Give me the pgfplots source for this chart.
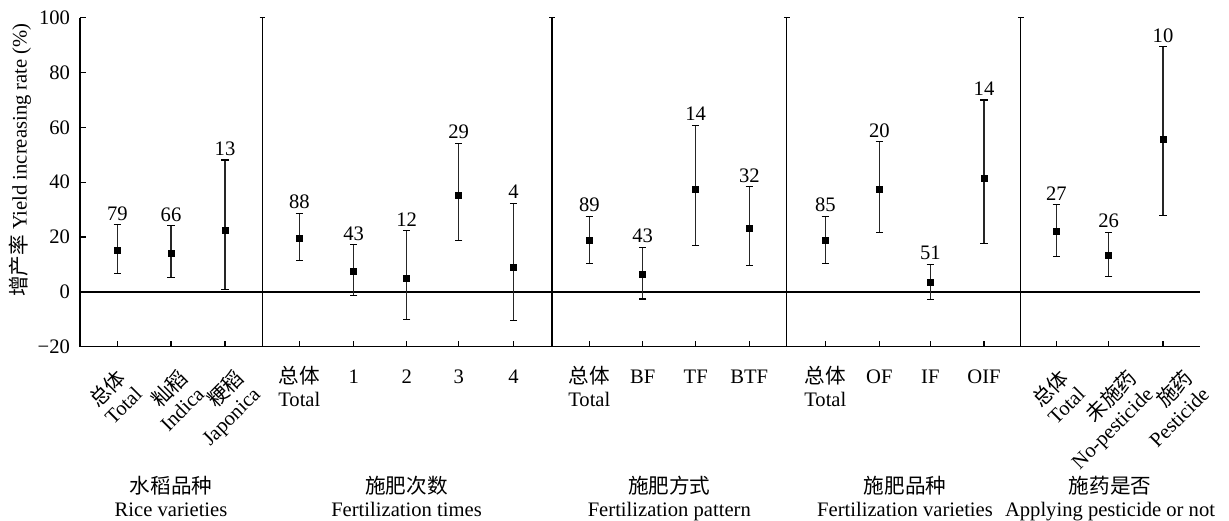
\documentclass[border=0pt]{standalone}
\usepackage{pgfplots}
\pgfplotsset{compat=1.18}
\usepackage{pgfplotstable}
\usepackage{fontspec}
\setmainfont{Liberation Serif}
\newfontfamily\cjk[Scale=1.0]{Noto Sans CJK SC}
\newcommand{\lab}{\fontsize{10.3}{11.3}\selectfont}

\pgfplotstableread{
x y ep em top n
117.3 15.3 9.2 8.5 24.5 79
171.0 14.2 9.9 8.8 24.1 66
225.0 22.4 25.7 21.4 48.1 13
299.3 19.7 9.0 8.3 28.7 88
353.7 7.5 9.7 8.7 17.2 43
406.7 4.9 17.4 14.9 22.3 12
458.7 35.2 18.9 16.5 54.1 29
513.5 8.8 23.6 19.3 32.4 4
589.3 18.7 8.8 8.2 27.5 89
642.7 6.5 9.7 9.1 16.2 43
695.7 37.3 23.5 20.3 60.8 14
749.3 23.1 15.3 13.6 38.4 32
825.3 18.7 8.8 8.2 27.5 85
879.3 37.4 17.4 15.7 54.8 20
930.3 3.4 6.6 6.3 10.0 51
984.0 41.4 28.6 23.7 70.0 14
1056.3 22.0 9.9 9.2 31.9 27
1108.7 13.3 8.5 7.7 21.8 26
1163.0 55.5 33.9 27.6 89.4 10
}\data

\begin{document}
\begin{tikzpicture}
\begin{axis}[
  scale only axis, width=560pt, height=164.5pt,
  xmin=80, xmax=1200, ymin=-20, ymax=100,
  axis x line*=bottom, axis y line*=left,
  axis line style={line width=0.75pt, -},
  tick align=inside, major tick length=3pt,
  tick style={line width=0.6pt, black},
  xtick={117.3,171,225,299.3,353.7,406.7,458.7,513.5,589.3,642.7,695.7,749.3,825.3,879.3,930.3,984,1056.3,1108.7,1163},
  xticklabels={,,},
  ytick={-20,0,20,40,60,80,100},
  yticklabels={−20,0,20,40,60,80,100},
  ticklabel style={font=\lab},
  yticklabel style={xshift=-1.5pt},
  clip=false,
]
% invisible frame for the canvas
\path (axis cs:0,106.47) rectangle (axis cs:1229,-82.47);

% zero line
\addplot[black, line width=0.75pt, forget plot] coordinates {(80,0) (1200,0)};

% separators
\foreach \s in {262.5,552,786.7,1020.7}{
  \edef\tmp{\noexpand\draw[line width=0.75pt] (axis cs:\s,-20) -- (axis cs:\s,100);
  \noexpand\draw[line width=0.75pt] (axis cs:\s-2.8,100) -- (axis cs:\s+2.8,100);}
  \tmp
}

% data with error bars
\addplot[only marks, mark=square*, mark size=1.5pt, black,
  error bars/.cd, y dir=both, y explicit,
  error mark options={rotate=90, mark size=1.8pt, line width=0.55pt, black},
  error bar style={line width=0.55pt, black!85}]
  table[x=x, y=y, y error plus=ep, y error minus=em] {\data};

% sample sizes
\addplot[draw=none, mark=none, nodes near coords, point meta=explicit symbolic,
  nodes near coords style={font=\lab, anchor=south, inner sep=2pt}]
  table[x=x, y=top, meta=n] {\data};

% y label
\node[rotate=90, font=\lab] at (axis cs:20,48.1) {{\cjk 增产率} Yield increasing rate (\%)};

% rotated tick labels
\begin{scope}[every node/.style={font=\lab, rotate=45, align=right, anchor=north east, inner sep=0pt}]
\node at (axis cs:115,-27.4) {{\cjk 总体}\\Total};
\node at (axis cs:177,-27.4) {{\cjk 籼稻}\\Indica};
\node at (axis cs:233,-27.4) {{\cjk 粳稻}\\Japonica};
\node at (axis cs:1058,-27.4) {{\cjk 总体}\\Total};
\node at (axis cs:1126,-27.4) {{\cjk 未施药}\\No-pesticide};
\node at (axis cs:1182,-27.4) {{\cjk 施药}\\Pesticide};
\end{scope}

% horizontal tick labels
\begin{scope}[every node/.style={font=\lab, align=center, anchor=north, inner sep=0pt}]
\node at (axis cs:299.3,-27.0) {{\cjk 总体}\\Total};
\node at (axis cs:353.7,-28.2) {1};
\node at (axis cs:406.7,-28.2) {2};
\node at (axis cs:458.7,-28.2) {3};
\node at (axis cs:513.5,-28.2) {4};
\node at (axis cs:589.3,-27.0) {{\cjk 总体}\\Total};
\node at (axis cs:642.7,-28.2) {BF};
\node at (axis cs:695.7,-28.2) {TF};
\node at (axis cs:749.3,-28.2) {BTF};
\node at (axis cs:825.3,-27.0) {{\cjk 总体}\\Total};
\node at (axis cs:879.3,-28.2) {OF};
\node at (axis cs:930.3,-28.2) {IF};
\node at (axis cs:984,-28.2) {OIF};
\end{scope}

% group labels
\begin{scope}[every node/.style={font=\lab, align=center, anchor=north, inner sep=0pt}]
\node at (axis cs:171,-67.1) {{\cjk 水稻品种}\\Rice varieties};
\node at (axis cs:406.5,-67.1) {{\cjk 施肥次数}\\Fertilization times};
\node at (axis cs:669.3,-67.1) {{\cjk 施肥方式}\\Fertilization pattern};
\node at (axis cs:905,-67.1) {{\cjk 施肥品种}\\Fertilization varieties};
\node at (axis cs:1110,-67.1) {{\cjk 施药是否}\\Applying pesticide or not};
\end{scope}
\end{axis}
\end{tikzpicture}
\end{document}
